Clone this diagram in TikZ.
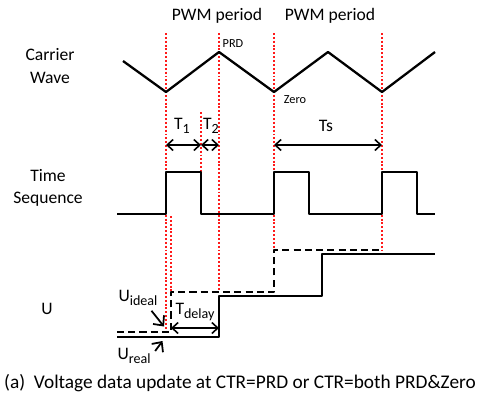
\documentclass[tikz,border=0pt]{standalone}
\usepackage{fontspec}
\setmainfont{Carlito}
\usetikzlibrary{positioning,arrows.meta,calc}
\definecolor{GuideRed}{HTML}{FF1A1A}
\newcommand{\subtxt}[1]{\raisebox{-0.45ex}{\footnotesize #1}}

\begin{document}
\begin{tikzpicture}[
  font=\fontsize{10}{12.8}\selectfont,
  >={Straight Barb[length=1.2mm,width=2.2mm]},
  wave/.style={line width=1.3pt,line join=round},
  idealwave/.style={wave,dash pattern=on 4pt off 2.4pt},
  guide/.style={draw=GuideRed,line width=1.4pt,dash pattern=on 1.1pt off 1.1pt},
  span/.style={<->,line width=0.9pt},
  pointer/.style={-{Straight Barb[length=1.5mm,width=2.8mm]},line width=1pt},
  rowlabel/.style={align=center},
  tag/.style={font=\scriptsize}
]
\useasboundingbox (0,0) rectangle (9.62,8.10);

% red guide lines
\foreach \gx/\gtop/\gbot in {3.32/7.44/1.46, 3.42/3.78/2.26, 4.02/5.86/4.66,
                             4.38/7.44/2.26, 5.48/7.44/3.10, 7.64/7.44/3.10}
  \draw[guide] (\gx,\gtop) -- (\gx,\gbot);

% row labels
\node[rowlabel] (carrierlab) at (1.00,6.78) {Carrier\\Wave};
\node[rowlabel] (seqlab) at (0.96,4.34) {Time\\Sequence};
\node[rowlabel] (ulab) at (0.94,1.92) {U};

% carrier wave
\node (pwm1) at (4.34,7.78) {PWM period};
\node (pwm2) at (6.60,7.78) {PWM period};
\draw[wave] (2.46,6.88) -- (3.32,6.26) -- (4.38,7.06) -- (5.48,6.26)
  -- (6.56,7.06) -- (7.64,6.26) -- (8.70,7.06);
\node[tag] (prd) at (4.66,7.22) {PRD};
\node[tag] (zero) at (5.90,6.10) {Zero};

% time sequence
\draw[wave] (2.34,3.82) -| (3.32,4.66) -| (4.02,3.82) -| (5.48,4.66)
  -| (6.18,3.82) -| (7.64,4.66) -| (8.34,3.82) -- (8.70,3.82);

\coordinate (t1l) at (3.32,5.20);
\coordinate (t1r) at (4.02,5.20);
\coordinate (t2r) at (4.38,5.20);
\coordinate (tsl) at (5.48,5.20);
\coordinate (tsr) at (7.64,5.20);
\draw[span] (t1l) -- (t1r);
\draw[span] (t1r) -- (t2r);
\draw[span] (tsl) -- (tsr);
\node (t1lab) at (3.64,5.58) {T\subtxt{1}};
\node (t2lab) at (4.22,5.58) {T\subtxt{2}};
\node (tslab) at (6.52,5.58) {Ts};

% voltage
\draw[wave] (2.34,1.36) -| (4.38,2.18) -| (6.44,3.02) -- (8.70,3.02);
\draw[idealwave] (2.34,1.46) -| (3.42,2.26) -| (5.48,3.10) -- (7.64,3.10);

\coordinate (tdl) at (3.42,1.54);
\coordinate (tdr) at (4.38,1.54);
\draw[span] (tdl) -- (tdr);
\node (tdlab) at (3.90,1.86) {T\subtxt{delay}};

\node (uideal) at (2.76,2.14) {U\subtxt{ideal}};
\coordinate (uidealtip) at (3.28,1.57);
\draw[pointer] ($(uideal.south)+(0.27,0.02)$) -- (uidealtip);
\node (ureal) at (2.68,0.98) {U\subtxt{real}};
\coordinate (urealtip) at (3.25,1.28);
\draw[pointer] ($(ureal.east)+(-0.03,0.10)$) -- (urealtip);

\node[font=\fontsize{11}{13}\selectfont] (caption) at (4.80,0.44)
  {(a)\ \ Voltage data update at CTR=PRD or CTR=both PRD\&Zero};
\end{tikzpicture}
\end{document}
